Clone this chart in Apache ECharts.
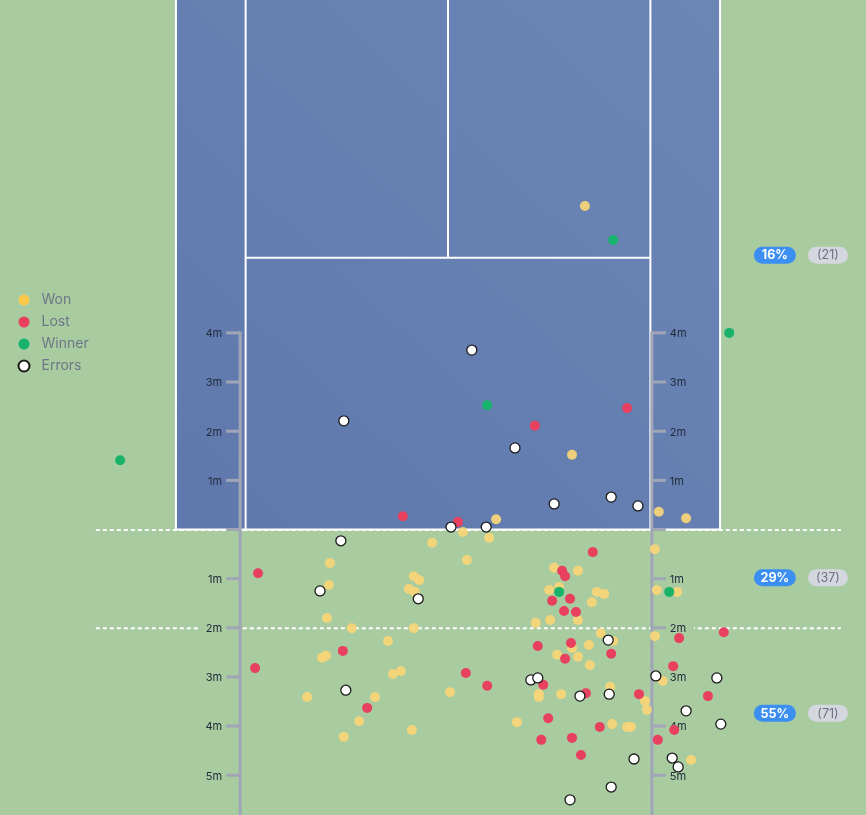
<!DOCTYPE html>
<html><head><meta charset="utf-8">
<script src="https://cdn.jsdelivr.net/npm/echarts/dist/echarts.min.js"></script>
<style>html,body{margin:0;padding:0;background:#a8cba0}#c{width:866px;height:815px}</style>
</head><body><div id="c"></div>
<script>
// ---- data (metres: x from court centre, y from baseline; + = into court, - = behind) ----
const categories = ['Won', 'Lost', 'Winner', 'Errors'];
const wonPts = [
  [2.76,6.58],[2.50,1.52],[0.97,0.21],[4.25,0.36],[4.80,0.23],
  [0.30,-0.05],[0.83,-0.17],[-0.32,-0.27],[0.38,-0.62],[-2.38,-0.68],[-0.69,-0.95],[-0.58,-1.03],[-0.79,-1.21],
  [-0.67,-1.27],[-2.40,-1.13],[-2.44,-1.80],[4.17,-0.40],[2.14,-0.78],[2.62,-0.84],[2.04,-1.23],[2.24,-1.17],
  [3.00,-1.27],[3.15,-1.31],[2.90,-1.48],[1.77,-1.90],[2.06,-1.84],[2.62,-1.84],[4.21,-1.23],[4.62,-1.27],
  [-1.94,-2.01],[-0.69,-2.01],[-1.21,-2.27],[-2.46,-2.57],[-2.54,-2.61],[-0.95,-2.88],[-1.11,-2.94],[-2.84,-3.41],
  [-1.47,-3.41],[0.04,-3.31],[-1.79,-3.90],[-0.73,-4.08],[-2.10,-4.22],[3.08,-2.11],[3.33,-2.27],[4.17,-2.17],
  [2.50,-2.41],[2.84,-2.35],[2.20,-2.55],[2.62,-2.59],[2.86,-2.76],[4.33,-3.08],[3.27,-3.20],[1.83,-3.35],
  [1.83,-3.41],[2.28,-3.35],[3.97,-3.49],[4.01,-3.67],[1.39,-3.92],[3.31,-3.96],[3.61,-4.02],[3.69,-4.02],[4.90,-4.69]
];
const lostPts = [
  [1.75,2.11],[3.61,2.47],[-0.91,0.27],[0.20,0.15],
  [-3.83,-0.89],[2.92,-0.46],[2.30,-0.84],[2.36,-0.95],[2.10,-1.45],[2.46,-1.41],[2.34,-1.66],[2.58,-1.68],
  [-2.12,-2.47],[-3.89,-2.82],[0.36,-2.92],[0.79,-3.18],[-1.63,-3.63],[4.66,-2.21],[5.56,-2.09],[1.81,-2.37],
  [2.48,-2.31],[3.29,-2.53],[2.36,-2.63],[4.54,-2.78],[1.92,-3.16],[2.78,-3.33],[3.85,-3.35],[5.24,-3.39],
  [2.02,-3.84],[3.06,-4.02],[4.56,-4.08],[1.88,-4.28],[2.50,-4.24],[4.23,-4.28],[2.68,-4.59]
];
const winnerPts = [[3.33,5.89],[5.67,4.00],[-6.61,1.41],[0.79,2.53],[2.24,-1.27],[4.46,-1.27]];
const errorPts = [
  [0.48,3.65],[-2.10,2.21],[1.35,1.66],[2.14,0.52],[3.29,0.66],[3.83,0.48],[0.06,0.05],[0.77,0.05],
  [-2.16,-0.23],[-2.58,-1.25],[-0.60,-1.41],
  [-2.06,-3.27],[3.23,-2.25],[1.67,-3.06],[1.81,-3.02],[4.19,-2.98],[5.42,-3.02],[2.66,-3.39],[3.25,-3.35],
  [4.80,-3.69],[5.50,-3.96],[3.75,-4.67],[4.52,-4.65],[4.64,-4.83],[3.29,-5.24],[2.46,-5.50]
];
const rulerTicks = [4, 3, 2, 1, 0, -1, -2, -3, -4, -5];
const zoneNames = ['court', '0-2m', '2m+'];

// ---- court geometry (metres) ----
const DW = 5.485, SW = 4.08, SVC = 5.53, NET = 11.885;
const X_MIN = -9.032, X_MAX = 8.427, Y_MIN = -5.809, Y_MAX = 10.773;

const allPts = [].concat(wonPts, lostPts, winnerPts, errorPts);
const zoneCounts = [
  allPts.filter(p => p[1] > 0).length,
  allPts.filter(p => p[1] <= 0 && p[1] > -2).length,
  allPts.filter(p => p[1] <= -2).length
];
const total = allPts.length;
const badgeY = [5.58, -0.98, -3.74];
const badgeData = zoneCounts.map((c, i) => [0, badgeY[i], Math.round(c / total * 100), c]);

const GREEN = '#a8cba0';
const FONT = 'Inter, "Noto Sans", sans-serif';

function courtItem(params, api) {
  const p = (x, y) => api.coord([x, y]);
  const ch = [];
  [0, -2].forEach(v => {
    const s = p(-7.10, v), e = p(7.92, v);
    ch.push({type: 'line', shape: {x1: s[0], y1: s[1] + 0.5, x2: e[0], y2: e[1] + 0.5},
      style: {stroke: '#ffffff', lineWidth: 2, lineDash: [4, 3]}});
  });
  const a = p(-DW, 0), b = p(DW, NET);
  ch.push({type: 'rect', shape: {x: a[0], y: b[1], width: b[0] - a[0], height: a[1] - b[1]},
    style: {fill: new echarts.graphic.LinearGradient(0, 1, 1, 0, [
      {offset: 0, color: '#6078ad'}, {offset: 1, color: '#6b87b6'}])}});
  const line = (x1, y1, x2, y2) => {
    const s = p(x1, y1), e = p(x2, y2);
    ch.push({type: 'line', shape: {x1: s[0], y1: s[1], x2: e[0], y2: e[1]},
      style: {stroke: '#ffffff', lineWidth: 2}});
  };
  line(-DW, 0, -DW, NET); line(DW, 0, DW, NET); line(-DW - 0.02, 0, DW + 0.02, 0);
  line(-SW, 0, -SW, NET); line(SW, 0, SW, NET);
  line(-SW, SVC, SW, SVC); line(0, SVC, 0, NET);
  return {type: 'group', children: ch};
}

function rulerItem(params, api) {
  const side = api.value(0);
  const xr = side < 0 ? -4.19 : 4.11;
  const dir = side < 0 ? -1 : 1;
  const ch = [];
  const top = api.coord([xr, rulerTicks[0]]);
  const bot = api.coord([xr, Y_MIN - 1]);
  rulerTicks.forEach(v => {
    const c = api.coord([xr, v]);
    if (v < 0) {
      ch.push({type: 'rect', shape: {x: dir < 0 ? c[0] - 42 : c[0], y: c[1] - 6, width: 42, height: 12},
        style: {fill: GREEN}});
    }
  });
  ch.push({type: 'line', shape: {x1: top[0], y1: top[1] - 1.5, x2: bot[0], y2: bot[1]},
    style: {stroke: '#a0a6b6', lineWidth: 3}});
  rulerTicks.forEach(v => {
    const c = api.coord([xr, v]);
    ch.push({type: 'line', shape: {x1: c[0], y1: c[1], x2: c[0] + dir * 14, y2: c[1]},
      style: {stroke: '#a0a6b6', lineWidth: 3}});
    if (v !== 0) {
      ch.push({type: 'text', x: c[0] + dir * 18, y: c[1] + 1,
        style: {text: Math.abs(v) + 'm', fill: '#222c3c', font: '11px ' + FONT,
          align: dir < 0 ? 'right' : 'left', verticalAlign: 'middle'}});
    }
  });
  return {type: 'group', children: ch};
}

function badgeItem(params, api) {
  const c = api.coord([6.59, api.value(1)]);
  const g = api.coord([7.66, api.value(1)]);
  return {type: 'group', children: [
    {type: 'rect', shape: {x: c[0] - 21, y: c[1] - 8.5, width: 42, height: 17, r: 8.5}, style: {fill: '#3b8ff1'}},
    {type: 'text', x: c[0], y: c[1] + 0.5, style: {text: api.value(2) + '%', fill: '#ffffff',
      font: 'bold 12.5px ' + FONT, align: 'center', verticalAlign: 'middle'}},
    {type: 'rect', shape: {x: g[0] - 20, y: g[1] - 8.5, width: 40, height: 17, r: 8.5}, style: {fill: '#d4d7de'}},
    {type: 'text', x: g[0], y: g[1] + 0.5, style: {text: '(' + api.value(3) + ')', fill: '#6b7280',
      font: '12.5px ' + FONT, align: 'center', verticalAlign: 'middle'}}
  ]};
}

const chart = echarts.init(document.getElementById('c'), null, {renderer: 'canvas'});
chart.setOption({
  animation: false,
  backgroundColor: GREEN,
  grid: {left: 0, right: 0, top: 0, bottom: 0},
  xAxis: {type: 'value', min: X_MIN, max: X_MAX, show: false},
  yAxis: {type: 'value', min: Y_MIN, max: Y_MAX, show: false},
  legend: {
    orient: 'vertical', left: 17.5, top: 293, padding: 0,
    itemWidth: 11, itemHeight: 11, itemGap: 8, icon: 'circle',
    textStyle: {color: '#6e7787', fontSize: 14, fontFamily: FONT, lineHeight: 14, padding: [0, 0, 0, 7]},
    data: [
      {name: 'Won', itemStyle: {color: '#fcc94d', opacity: 1}},
      {name: 'Lost'}, {name: 'Winner'}, {name: 'Errors'}
    ]
  },
  series: [
    {type: 'custom', name: 'court', z: 1, silent: true, data: [[0, 0]], renderItem: courtItem, clip: false},
    {type: 'custom', name: 'rulers', z: 2, silent: true, data: [[-1, 0], [1, 0]], renderItem: rulerItem, clip: false},
    {type: 'scatter', name: categories[0], z: 3, data: wonPts, symbolSize: 10,
      itemStyle: {color: '#f9d577', opacity: 0.92}},
    {type: 'scatter', name: categories[1], z: 3, data: lostPts, symbolSize: 10,
      itemStyle: {color: '#e8405f', opacity: 1}},
    {type: 'scatter', name: categories[2], z: 3, data: winnerPts, symbolSize: 10,
      itemStyle: {color: '#18b26b', opacity: 1}},
    {type: 'scatter', name: categories[3], z: 3, data: errorPts, symbolSize: 10,
      itemStyle: {color: '#ffffff', borderColor: '#1a1a1a', borderWidth: 1.3, opacity: 1}},
    {type: 'custom', name: 'zones', z: 4, silent: true, data: badgeData, renderItem: badgeItem, clip: false}
  ]
});
</script>
</body></html>
